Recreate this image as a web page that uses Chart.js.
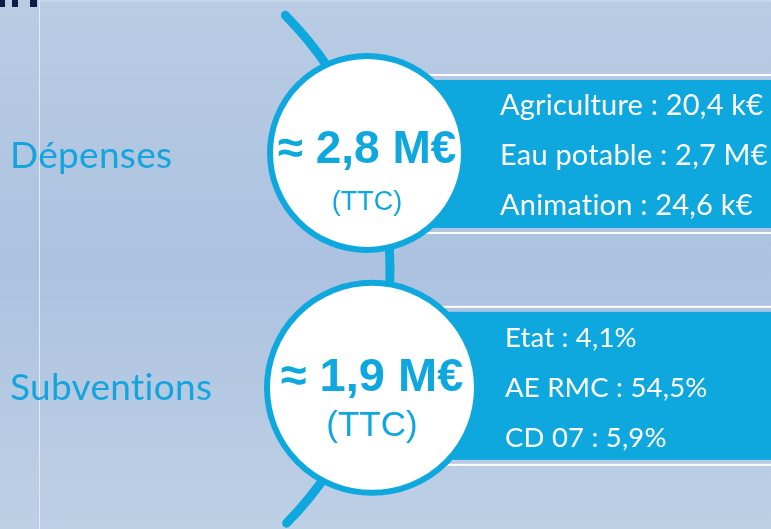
<!DOCTYPE html>
<html>
<head>
<meta charset="utf-8">
<script src="https://cdn.jsdelivr.net/npm/chart.js@4"></script>
<style>
    html, body { margin: 0; padding: 0; background: #b4c9e3; }
    #wrap { width: 771px; height: 529px; }
</style>
</head>
<body>
<div id="wrap"><canvas id="infoChart" width="771" height="529"></canvas></div>
<script>
// Données
const categories = ['Dépenses', 'Subventions'];
const totals = [2.8, 1.9]; // M€ TTC
const detailLabels = [['Agriculture', 'Eau potable', 'Animation'], ['Etat', 'AE RMC', 'CD 07']];
const detailValues = [[20.4, 2.7, 24.6], [4.1, 54.5, 5.9]];
const detailUnits = [[' k€', ' M€', ' k€'], ['%', '%', '%']];

const BLUE = '#0ea8df';
const fr = v => v.toFixed(1).replace('.', ',');

// Mise en page de chaque ligne (position du cercle, taille des textes)
const rows = [
    { cx: 367, dy: -3, r: 97, big: 46, bigY: 7, ttc: 27, ttcY: 54, textX: 500, textSize: 29.5 },
    { cx: 372, dy: 0, r: 105, big: 47, bigY: 3, ttc: 35, ttcY: 48, textX: 505, textSize: 28 }
];

const infographic = {
    id: 'infographic',
    beforeInit(chart) {
        // pas de ligatures "ti" avec Lato
        chart.ctx.textRendering = 'optimizeSpeed';
        chart.ctx.letterSpacing = '0.3px';
    },
    beforeDraw(chart) {
        const { ctx, width, height } = chart;
        ctx.textRendering = 'optimizeSpeed';
        ctx.letterSpacing = '0.3px';
        ctx.save();
        const g = ctx.createLinearGradient(0, 0, 0, height);
        g.addColorStop(0, '#b9cce4');
        g.addColorStop(0.5, '#acc2df');
        g.addColorStop(1, '#bed0e6');
        ctx.fillStyle = g;
        ctx.fillRect(0, 0, width, height);
        ctx.fillStyle = '#c6d6ea';
        ctx.fillRect(40, 0, width - 40, 2);
        ctx.fillStyle = '#0b1d45';
        [[0, 5], [12, 6], [30, 7]].forEach(([x, w]) => ctx.fillRect(x, 0, w, 7));
        ctx.fillStyle = '#e2eaf5';
        ctx.fillRect(39, 0, 1, height);
        ctx.restore();
    },
    afterDraw(chart) {
        const { ctx, width } = chart;
        const yScale = chart.scales.y;
        const ys = categories.map((c, i) => yScale.getPixelForValue(i));
        ctx.save();

        // grand arc reliant les deux cercles
        const midY = (ys[0] + ys[1]) / 2 - 2;
        ctx.strokeStyle = BLUE;
        ctx.lineWidth = 9;
        ctx.lineCap = 'round';
        ctx.beginPath();
        ctx.arc(28, midY, 362, -0.78, 0.775);
        ctx.stroke();

        categories.forEach((cat, i) => {
            const L = rows[i];
            const cy = ys[i] + L.dy;
            const top = ys[i] - 76, h = 148;

            // bandeau bleu
            ctx.strokeStyle = '#ffffff';
            ctx.lineWidth = 2;
            ctx.strokeRect(L.cx + 40, top - 5, width, h + 10);
            ctx.fillStyle = BLUE;
            ctx.fillRect(L.cx, top, width, h);

            // cercle
            ctx.beginPath();
            ctx.arc(L.cx, cy, L.r, 0, Math.PI * 2);
            ctx.fillStyle = '#ffffff';
            ctx.fill();
            ctx.lineWidth = 6;
            ctx.strokeStyle = BLUE;
            ctx.stroke();

            // total
            ctx.letterSpacing = '0px';
            ctx.fillStyle = BLUE;
            ctx.textAlign = 'center';
            ctx.textBaseline = 'alphabetic';
            ctx.font = `bold ${L.big}px "Liberation Sans", Arial, sans-serif`;
            ctx.fillText('≈ ' + fr(totals[i]) + ' M€', L.cx, ys[i] + L.bigY);
            ctx.font = `${L.ttc}px "Liberation Sans", Arial, sans-serif`;
            ctx.fillText('(TTC)', L.cx, ys[i] + L.ttcY);

            // détails
            ctx.letterSpacing = '0.2px';
            ctx.fillStyle = '#ffffff';
            ctx.textAlign = 'left';
            ctx.font = `${L.textSize - 0.5}px Lato, sans-serif`;
            detailLabels[i].forEach((lab, j) => {
                const txt = lab + ' : ' + fr(detailValues[i][j]) + detailUnits[i][j];
                ctx.fillText(txt, L.textX, ys[i] - 41 + j * 50);
            });
        });
        ctx.restore();
    }
};

Promise.all([
    document.fonts.load('30px Lato'),
    document.fonts.load('bold 44px "Liberation Sans"'),
    document.fonts.load('26px "Liberation Sans"')
]).catch(() => {}).then(() => {
    const ctx = document.getElementById('infoChart').getContext('2d');
    new Chart(ctx, {
        type: 'bar',
        data: { labels: categories, datasets: [] },
        plugins: [infographic],
        options: {
            responsive: false,
            animation: false,
            layout: { padding: { left: 10, top: 40, bottom: 25, right: 0 } },
            plugins: { legend: { display: false }, tooltip: { enabled: false } },
            scales: {
                x: { type: 'linear', display: false },
                y: {
                    type: 'category',
                    offset: true,
                    grid: { display: false },
                    border: { display: false },
                    ticks: {
                        crossAlign: 'far',
                        color: '#14a5de',
                        font: { family: 'Lato', size: 37 }
                    }
                }
            }
        }
    });
});
</script>
</body>
</html>
